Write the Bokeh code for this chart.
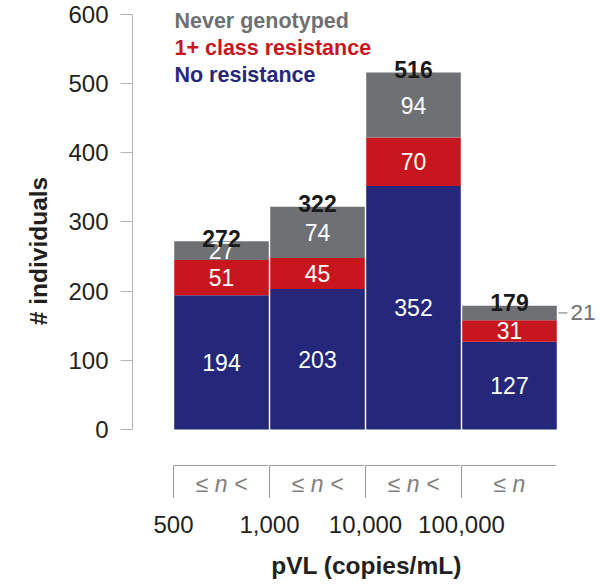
from bokeh.plotting import figure
from bokeh.models import ColumnDataSource, Range1d, FixedTicker
from bokeh.core.properties import value
from bokeh.embed import file_html
from bokeh.resources import INLINE

# ---- data ----
tick_labels = ["500", "1,000", "10,000", "100,000"]
range_symbols = ["≤ n <", "≤ n <", "≤ n <", "≤ n"]
no_resistance = [194, 203, 352, 127]
class_resistance = [51, 45, 70, 31]
never_genotyped = [27, 74, 94, 21]
totals = [272, 322, 516, 179]
y_ticks = [0, 100, 200, 300, 400, 500, 600]
legend_labels = ["Never genotyped", "1+ class resistance", "No resistance"]

NAVY = "#25277a"
RED = "#c8161e"
GRAY = "#6e7073"
FONT = "Liberation Sans"

n = len(no_resistance)
xs = [i + 0.5 for i in range(n)]
source = ColumnDataSource(dict(x=xs, no=no_resistance, res=class_resistance, never=never_genotyped))

p = figure(width=600, height=584,
           x_range=Range1d(-0.4271, 4.4479), y_range=Range1d(-104.1, 620.2),
           output_backend="svg", toolbar_location=None,
           min_border_left=132, min_border_right=0, min_border_top=0, min_border_bottom=83)
p.outline_line_color = None
p.xgrid.grid_line_color = None
p.ygrid.grid_line_color = None
p.background_fill_color = "white"
p.border_fill_color = "white"

p.vbar_stack(["no", "res", "never"], x="x", width=0.985, color=[NAVY, RED, GRAY],
             line_color=None, source=source)

# segment labels
lab_x, lab_y, lab_t = [], [], []
for i in range(n):
    a, b, c = no_resistance[i], class_resistance[i], never_genotyped[i]
    lab_x += [xs[i], xs[i]]
    lab_y += [a / 2, a + b / 2]
    lab_t += [str(a), str(b)]
    if i < n - 1:
        lab_x.append(xs[i]); lab_y.append(a + b + c / 2); lab_t.append(str(c))
p.text(x=lab_x, y=lab_y, text=lab_t, text_color="white", text_align="center",
       text_baseline="middle", text_font=value(FONT), text_font_size="23px")

# totals
p.text(x=xs, y=totals, text=[str(t) for t in totals], text_color="#1a1a1a",
       text_align="center", text_baseline="alphabetic", y_offset=-3,
       text_font=value(FONT), text_font_size="23px", text_font_style="bold")

# external label for the small segment
last = n - 1
mid = no_resistance[last] + class_resistance[last] + never_genotyped[last] / 2
p.segment(x0=[n + 0.01], y0=[mid], x1=[n + 0.104], y1=[mid], line_color=GRAY, line_width=1)
p.text(x=[n + 0.135], y=[mid], text=[str(never_genotyped[last])], text_color=GRAY,
       text_align="left", text_baseline="middle", text_font=value(FONT), text_font_size="22.5px")

# legend as coloured text
p.text(x=[0.01, 0.01, 0.01], y=[591, 552, 513], text=legend_labels,
       text_color=[GRAY, RED, NAVY], text_align="left", text_baseline="middle",
       text_font=value(FONT), text_font_size="21.5px", text_font_style="bold")

# range brackets below the bars
y_top, y_bot = -52.0, -98.3
p.segment(x0=list(range(n)), y0=[y_top] * n, x1=list(range(n)), y1=[y_bot] * n,
          line_color="#9a9a9a", line_width=1)
p.segment(x0=list(range(n)), y0=[y_top] * n, x1=[i + 0.985 for i in range(n)], y1=[y_top] * n,
          line_color="#9a9a9a", line_width=1)
p.text(x=xs, y=[-78.1] * n, text=range_symbols, text_color="#7f7f7f", text_align="center",
       text_baseline="middle", text_font=value(FONT), text_font_size="23px",
       text_font_style="italic")

# y axis
ya = p.yaxis[0]
ya.bounds = (0, 600)
ya.ticker = FixedTicker(ticks=y_ticks)
ya.axis_line_color = "#b5b5b5"
ya.major_tick_line_color = "#b5b5b5"
ya.major_tick_out = 12
ya.major_tick_in = 0
ya.minor_tick_line_color = None
ya.major_label_standoff = 12
ya.major_label_text_font = FONT
ya.major_label_text_font_size = "24px"
ya.major_label_text_color = "#231f20"
ya.axis_label = "# individuals"
ya.axis_label_text_font = FONT
ya.axis_label_text_font_size = "24.5px"
ya.axis_label_text_font_style = "bold"
ya.axis_label_text_color = "#231f20"
ya.axis_label_standoff = 13

# x axis
xa = p.xaxis[0]
xa.ticker = FixedTicker(ticks=list(range(n)))
xa.major_label_overrides = {i: lab for i, lab in enumerate(tick_labels)}
xa.axis_line_color = None
xa.major_tick_line_color = None
xa.minor_tick_line_color = None
xa.major_label_standoff = 8
xa.major_label_text_font = FONT
xa.major_label_text_font_size = "24px"
xa.major_label_text_color = "#231f20"
xa.axis_label = "pVL (copies/mL)"
xa.axis_label_text_font = FONT
xa.axis_label_text_font_size = "24.5px"
xa.axis_label_text_font_style = "bold"
xa.axis_label_text_color = "#231f20"
xa.axis_label_standoff = 16

open("out.html", "w").write(file_html(p, INLINE))
